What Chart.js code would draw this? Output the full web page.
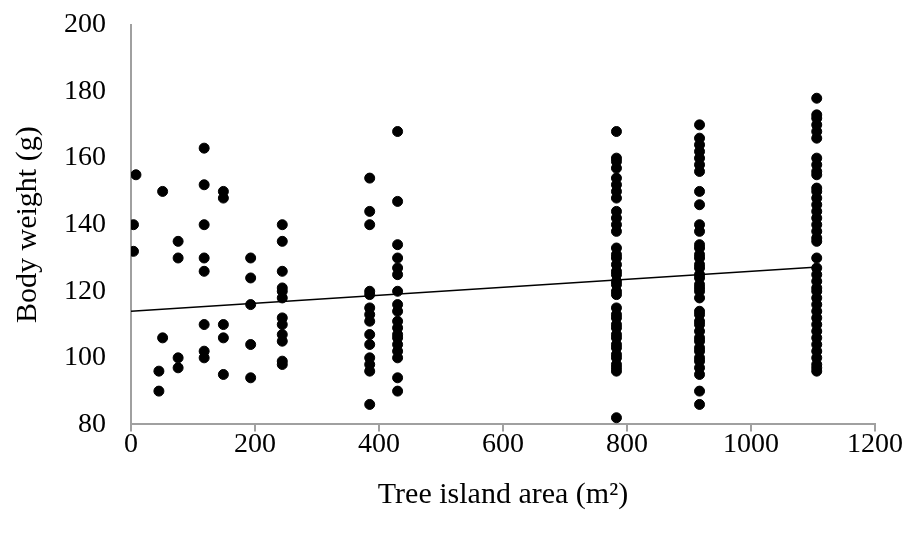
<!DOCTYPE html>
<html>
<head>
<meta charset="utf-8">
<script src="https://cdn.jsdelivr.net/npm/chart.js@4.4.0/dist/chart.umd.min.js"></script>
<style>
  html, body { margin: 0; padding: 0; background: #fff; }
  #wrap { width: 905px; height: 535px; position: relative; }
</style>
</head>
<body>
<div id="wrap"><canvas id="chart"></canvas></div>
<script>
// Tree island areas (m2) and the body weights measured on each
const areas = [4, 8, 45, 51, 76, 118, 149, 193, 244, 385, 430, 783, 917, 1106];
const weights = [
    [140, 132],
    [155],
    [96, 90],
    [150, 106],
    [135, 130, 100, 97],
    [163, 152, 140, 130, 126, 110, 102, 100],
    [150, 148, 110, 106, 95],
    [130, 124, 116, 104, 94],
    [140, 135, 126, 121, 120, 118, 112, 110, 107, 105, 99, 98],
    [154, 144, 140, 120, 119, 115, 113, 111, 107, 104, 100, 98, 96, 86],
    [168, 147, 134, 130, 127, 125, 120, 116, 114, 111, 109, 107, 106, 104, 102, 100, 94, 90],
    [168, 160, 159, 157, 154, 152, 150, 148, 144, 142, 140, 138,
     133, 131, 130, 128, 126, 125, 123, 122, 120, 119,
     115, 113, 112, 110, 109, 107, 106, 104, 103, 101, 100, 98, 97, 96, 82],
    [170, 166, 164, 162, 160, 158, 156, 150, 146, 140, 138,
     134, 133, 131, 130, 128, 127, 125, 124, 122, 121, 120, 118,
     114, 113, 111, 110, 108, 106, 105, 103, 102, 100, 99, 97, 95, 90, 86],
    [178, 173, 172, 170, 168, 166, 160, 158, 156, 155,
     151, 150, 148, 146, 144, 142, 140, 138, 136, 135, 130,
     127, 125, 123, 121, 120, 118, 116, 114, 112, 110, 108, 106, 104, 102, 100, 98, 97, 96]
];

// Linear trend line end points
const trendX = [0, 1108];
const trendY = [114, 127.3];

const xTicks = [0, 200, 400, 600, 800, 1000, 1200];
const yTicks = [80, 100, 120, 140, 160, 180, 200];

const axisColor = '#a0a0a0';
const fontFamily = '"Liberation Serif", "Times New Roman", serif';

// Build point list from areas + weights
const points = [];
areas.forEach(function(area, i) {
    weights[i].forEach(function(w) {
        points.push({ x: area, y: w });
    });
});

const trendPoints = trendX.map((x, i) => ({ x: x, y: trendY[i] }));

new Chart(document.getElementById('chart'), {
    type: 'scatter',
    data: {
        datasets: [
            {
                label: 'Body weight',
                data: points,
                backgroundColor: '#000',
                borderColor: '#000',
                pointRadius: 5,
                pointHoverRadius: 5
            },
            {
                label: 'Trend',
                type: 'line',
                data: trendPoints,
                borderColor: '#000',
                borderWidth: 1.5,
                pointRadius: 0,
                fill: false
            }
        ]
    },
    options: {
        responsive: true,
        maintainAspectRatio: false,
        animation: false,
        layout: {
            padding: { left: 10, right: 30, top: 25, bottom: 22 }
        },
        scales: {
            x: {
                type: 'linear',
                min: 0,
                max: 1200,
                afterBuildTicks: function(axis) {
                    axis.ticks = xTicks.map(v => ({ value: v }));
                },
                grid: {
                    drawOnChartArea: false,
                    drawTicks: true,
                    tickLength: 7,
                    color: axisColor,
                    lineWidth: 2
                },
                border: { display: true, color: axisColor, width: 2 },
                ticks: {
                    color: '#000',
                    padding: -4,
                    maxRotation: 0,
                    font: { family: fontFamily, size: 28 },
                    callback: v => String(v)
                },
                title: {
                    display: true,
                    text: 'Tree island area (m²)',
                    color: '#000',
                    padding: { top: 20, bottom: 0 },
                    font: { family: fontFamily, size: 30 }
                }
            },
            y: {
                type: 'linear',
                min: 80,
                max: 200,
                afterBuildTicks: function(axis) {
                    axis.ticks = yTicks.map(v => ({ value: v }));
                },
                afterFit: function(axis) {
                    // let the top label sit at the very top of the plot
                    axis.paddingTop = 0;
                },
                grid: { display: false },
                border: { display: true, color: axisColor, width: 2 },
                ticks: {
                    color: '#000',
                    padding: 17,
                    font: { family: fontFamily, size: 28 },
                    callback: v => String(v)
                },
                title: {
                    display: true,
                    text: 'Body weight (g)',
                    color: '#000',
                    padding: { top: 0, bottom: 1 },
                    font: { family: fontFamily, size: 30 }
                }
            }
        },
        plugins: {
            legend: { display: false },
            tooltip: { enabled: false }
        }
    }
});
</script>
</body>
</html>
